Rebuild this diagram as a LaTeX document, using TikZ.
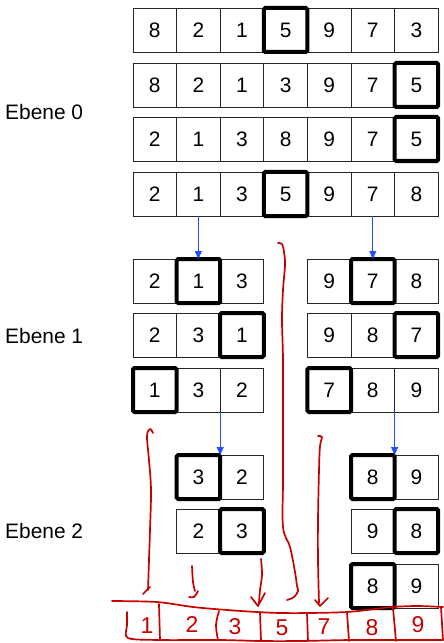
\documentclass[tikz,border=0pt]{standalone}
\usepackage{fontspec}
\setmainfont{Liberation Sans}
\usetikzlibrary{arrows.meta}
\definecolor{arrowblue}{RGB}{30,80,255}
\definecolor{penred}{RGB}{200,0,0}
\newcommand\cellrow[4]{\foreach \v [count=\i from #3] in {#4} {\node[cellbox] (#1-\i) at ({133+43.6*(\i+0.5)}, #2) {\v};}}
\newcommand\pivotcell[1]{\draw[pivotline] (#1.north west) rectangle (#1.south east);}
\begin{document}
\begin{tikzpicture}[x=1bp,y=-1bp,
  cellbox/.style={draw=black!85, line width=0.8bp, minimum width=43.6bp, minimum height=44bp, inner sep=0pt, outer sep=0pt, font=\fontsize{21}{24}\selectfont, text height=15bp, text depth=0pt},
  pivotline/.style={line width=4bp, rounded corners=1.5bp, black},
  bluearrow/.style={draw=arrowblue, line width=0.9bp, -{Triangle[length=8bp,width=7bp]}},
  redpen/.style={draw=penred, line width=1.7bp, line cap=round, line join=round},
  levellabel/.style={font=\fontsize{21}{24}\selectfont, anchor=west, inner sep=0pt},
  handdigit/.style={text=penred, font=\fontsize{23}{24}\selectfont, inner sep=0pt}]
\useasboundingbox (0,0) rectangle (444,643);
% Ebene 0
\cellrow{a1}{30}{0}{8,2,1,5,9,7,3}
\cellrow{a2}{85}{0}{8,2,1,3,9,7,5}
\cellrow{a3}{139}{0}{2,1,3,8,9,7,5}
\cellrow{a4}{194}{0}{2,1,3,5,9,7,8}
\pivotcell{a1-3}\pivotcell{a2-6}\pivotcell{a3-6}\pivotcell{a4-3}
% Ebene 1
\cellrow{b1}{281}{0}{2,1,3}
\cellrow{c1}{281}{4}{9,7,8}
\cellrow{b2}{335}{0}{2,3,1}
\cellrow{c2}{335}{4}{9,8,7}
\cellrow{b3}{390}{0}{1,3,2}
\cellrow{c3}{390}{4}{7,8,9}
\pivotcell{b1-1}\pivotcell{c1-5}\pivotcell{b2-2}\pivotcell{c2-6}\pivotcell{b3-0}\pivotcell{c3-4}
% Ebene 2
\cellrow{d1}{477}{1}{3,2}
\cellrow{e1}{477}{5}{8,9}
\cellrow{d2}{531}{1}{2,3}
\cellrow{e2}{531}{5}{9,8}
\cellrow{e3}{586}{5}{8,9}
\pivotcell{d1-1}\pivotcell{e1-5}\pivotcell{d2-2}\pivotcell{e2-6}\pivotcell{e3-5}
% labels
\node[levellabel] (l0) at (5,112) {Ebene 0};
\node[levellabel] (l1) at (5,336) {Ebene 1};
\node[levellabel] (l2) at (5,531) {Ebene 2};
% blue arrows
\draw[bluearrow] (a4-1.south) -- (b1-1.north);
\draw[bluearrow] (a4-5.south) -- (c1-5.north);
\draw[bluearrow] (b3-1.south east) -- (d1-1.north east);
\draw[bluearrow] (c3-5.south east) -- (e1-5.north east);
% red hand drawing: curves
\draw[redpen] plot[smooth, tension=0.6] coordinates {(153,433) (150,429) (147,436) (149,460) (151,490) (150,530) (149,560) (148,590)};
\draw[redpen] (143,594) -- (150,587);
\draw[redpen] plot[smooth, tension=0.6] coordinates {(192,566) (193,582) (195,591)};
\draw[redpen] plot[smooth, tension=0.6] coordinates {(189,597) (194,597) (198,591)};
\draw[redpen] plot[smooth, tension=0.6] coordinates {(261,559) (262,575) (260,590) (259,603)};
\draw[redpen] (251,597) -- (258,606) -- (265,593);
\draw[redpen] plot[smooth, tension=0.6] coordinates {(278,243) (282,244) (284,252) (285,265) (283,290) (282,320) (283,360) (283,420) (283,480) (283,527) (290,547) (295,572) (297,586) (298,591) (294,597) (287,600)};
\draw[redpen] plot[smooth, tension=0.6] coordinates {(318,436) (322,437) (320,446) (319,470) (318,520) (318,560) (319,603)};
\draw[redpen] (315,600) -- (320,606) -- (328,598);
% red hand drawing: result band
\draw[redpen] plot[smooth, tension=0.5] coordinates {(112,601) (157,602) (193,607) (227,610) (257,612) (280,613) (310,613) (347,612) (375,609) (392,607) (417,606) (443,607)};
\draw[redpen] plot[smooth, tension=0.5] coordinates {(127,612) (127,625) (128,638) (160,640) (220,640) (260,641) (300,641) (350,640) (400,640) (443,640)};
\draw[redpen] (159,604) -- (160,640);
\draw[redpen] plot[smooth, tension=0.6] coordinates {(219,611) (216,625) (218,640)};
\draw[redpen] (260,612) -- (261,641);
\draw[redpen] (307,613) -- (308,641);
\draw[redpen] (347,612) -- (349,641);
\draw[redpen] (393,608) -- (396,641);
\draw[redpen] (441,607) -- (443,640);
\node[handdigit] (h1) at (147,626) {1};
\node[handdigit] (h2) at (192,624) {2};
\node[handdigit] (h3) at (235,627) {3};
\node[handdigit] (h5) at (282,628) {5};
\node[handdigit] (h7) at (324,627) {7};
\node[handdigit] (h8) at (372,628) {8};
\node[handdigit] (h9) at (418,625) {9};
\end{tikzpicture}
\end{document}
